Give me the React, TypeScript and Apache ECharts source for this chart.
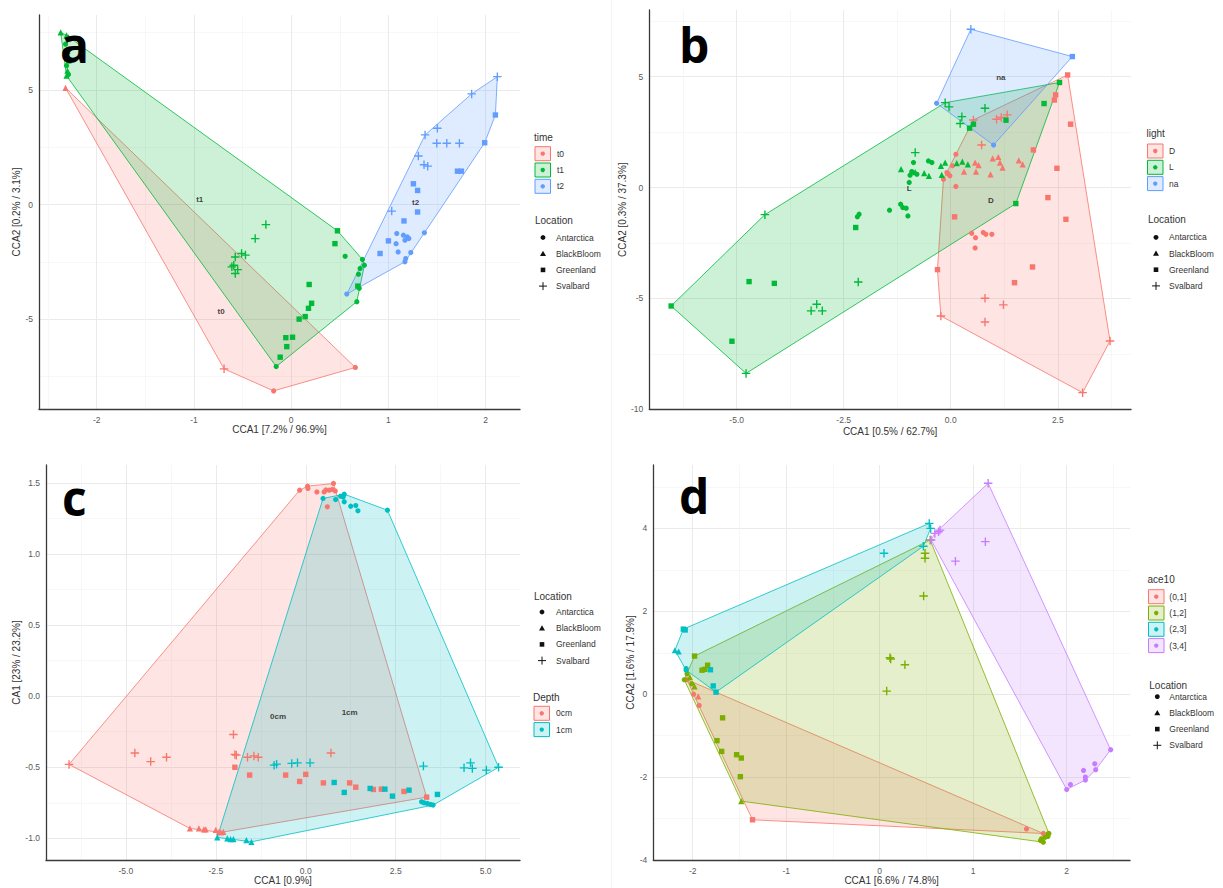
import { useEffect, useRef } from "react";
import * as echarts from "echarts";

type P = [number, number, number];

// Location codes: 0 Antarctica, 1 BlackBloom, 2 Greenland, 3 Svalbard
const LOCATIONS = ["Antarctica", "BlackBloom", "Greenland", "Svalbard"];

// ---------- panel a (time) ----------
const aTimes = ["t0", "t1", "t2"];
const aT0: P[] = [[-2.32, 5.09, 1], [-0.69, -7.16, 3], [-0.18, -8.12, 0], [0.66, -7.1, 0]];
const aT1: P[] = [
  [-2.37, 7.51, 1], [-2.31, 7.38, 1], [-2.29, 7.3, 1], [-2.32, 7.0, 0], [-2.3, 6.71, 1], [-2.31, 6.49, 0],
  [-2.29, 6.28, 1], [-2.31, 6.06, 0], [-2.3, 5.84, 1], [-2.29, 5.68, 0], [-2.31, 5.62, 1],
  [-0.26, -0.87, 3], [-0.37, -1.48, 3], [-0.51, -2.13, 3], [-0.47, -2.2, 3], [-0.575, -2.28, 3],
  [-0.59, -2.64, 3], [-0.55, -2.83, 3], [-0.575, -3.0, 3], [-0.61, -2.71, 3],
  [0.476, -1.14, 2], [0.45, -1.7, 2], [0.555, -2.25, 0], [0.185, -3.48, 2], [0.21, -4.3, 2], [0.178, -4.52, 2],
  [0.144, -4.88, 2], [0.082, -4.99, 2], [0.014, -5.78, 2], [-0.055, -5.8, 2], [-0.045, -6.19, 2],
  [-0.113, -6.65, 2], [-0.154, -7.06, 0],
  [0.733, -2.39, 0], [0.753, -2.64, 0], [0.709, -2.78, 0], [0.692, -3.03, 0], [0.685, -3.55, 2],
  [0.7, -3.65, 0], [0.675, -4.23, 0],
];
const aT2: P[] = [
  [2.12, 5.58, 3], [1.856, 4.83, 3], [1.503, 3.33, 3], [1.377, 3.04, 3], [1.497, 2.68, 3], [1.6, 2.68, 3],
  [1.73, 2.68, 3], [1.308, 2.12, 3], [1.366, 1.74, 3], [1.404, 1.68, 3], [1.034, -0.28, 3],
  [2.1, 3.91, 2], [1.99, 2.7, 2], [1.71, 1.46, 2], [1.75, 1.46, 2], [1.257, 0.91, 2], [1.3, 0.62, 2],
  [1.3, -0.32, 2], [1.16, -0.71, 2], [1.0, -1.58, 2], [0.914, -2.13, 2],
  [1.086, -1.26, 0], [1.154, -1.33, 0], [1.195, -1.41, 0], [1.17, -1.55, 0], [1.21, -1.48, 0],
  [1.079, -1.7, 0], [1.1, -2.06, 0], [1.23, -2.09, 0], [1.178, -2.35, 0], [1.17, -2.49, 0],
  [1.37, -1.23, 0], [0.572, -3.9, 0],
];
const aLabelPos: [number, number][] = [[-0.72, -4.67], [-0.94, 0.22], [1.28, 0.09]];

// ---------- panel b (light) ----------
const bLight = ["D", "L", "na"];
const bD: P[] = [
  [2.73, 5.08, 2], [3.72, -6.92, 3], [3.08, -9.25, 3], [-0.23, -5.79, 3], [-0.31, -3.7, 2], [-0.17, 0.38, 0],
  [0.12, 1.5, 0], [0.53, 3.05, 3], [1.07, 3.08, 3], [1.18, 3.16, 3], [1.32, 3.28, 3], [0.72, 1.92, 3],
  [2.42, 3.95, 2], [2.45, 4.18, 2], [2.8, 2.86, 2], [1.93, 1.7, 2], [2.48, 0.87, 2], [2.27, -0.45, 2],
  [2.69, -1.43, 2], [1.91, -3.58, 2], [1.49, -4.29, 2], [0.09, -1.32, 2],
  [0.12, 0.05, 0], [0.04, 0.98, 0], [-0.07, 0.63, 0], [-0.02, 0.53, 0], [-0.09, 0.68, 0],
  [0.49, -2.06, 0], [0.58, -2.26, 0], [0.76, -2.03, 0], [0.82, -2.11, 0], [0.96, -2.11, 0], [0.57, -2.72, 0],
  [0.31, 0.72, 1], [0.57, 1.13, 1], [0.65, 1.01, 1], [0.59, 0.72, 1], [0.93, 0.6, 1], [0.98, 1.32, 1],
  [1.11, 1.38, 1], [1.15, 1.13, 1], [1.21, 0.9, 1], [1.59, 1.23, 1], [1.68, 1.05, 1],
  [0.8, -4.99, 3], [1.23, -5.29, 3], [0.8, -6.06, 3],
];
const bL: P[] = [
  [-6.53, -5.34, 2], [-4.78, -8.38, 3], [1.52, -0.72, 2], [2.54, 4.74, 2], [-0.13, 3.83, 3], [-4.34, -1.22, 3],
  [-4.71, -4.24, 2], [-4.12, -4.32, 2], [-5.11, -6.93, 2], [-2.16, -4.26, 3], [-3.13, -5.26, 3],
  [-3.26, -5.56, 3], [-3.0, -5.56, 3],
  [-2.22, -1.8, 2], [-2.18, -1.32, 0], [-2.14, -1.2, 0], [-1.43, -1.02, 0], [-1.17, -0.75, 0],
  [-1.12, -0.9, 0], [-1.04, -0.93, 0], [-1.0, -1.28, 0],
  [-0.97, 0.23, 0], [-0.95, 0.56, 0], [-1.16, 0.83, 1], [-0.87, 1.13, 0], [-0.83, 1.58, 3], [-0.91, 0.72, 0],
  [-0.83, 0.7, 1], [-0.79, 0.6, 0], [-0.62, 0.65, 1], [-0.51, 0.53, 1], [-0.52, 1.2, 0], [-0.44, 1.13, 0],
  [-0.23, 0.98, 1], [-0.13, 1.13, 1], [-0.21, 0.57, 1], [0.14, 1.1, 1], [0.27, 1.17, 1], [0.4, 1.05, 1],
  [-0.04, 3.64, 3], [0.26, 3.2, 3], [0.22, 2.89, 3], [0.8, 3.58, 3], [0.44, 2.68, 2], [0.53, 2.86, 2],
  [1.29, 3.04, 2], [2.18, 3.79, 2],
];
const bNa: P[] = [[0.47, 7.14, 3], [2.84, 5.91, 2], [-0.33, 3.8, 0], [1.0, 1.92, 0]];
const bLabelPos: [number, number][] = [[0.94, -0.6], [-0.97, -0.03], [1.17, 4.96]];

// ---------- panel c (Depth) ----------
const cDepth = ["0cm", "1cm"];
const c0: P[] = [
  [-6.58, -0.48, 3], [-3.22, -0.93, 1], [-0.17, 1.448, 0], [0.77, 1.495, 0], [3.36, -0.71, 2], [-2.36, -0.958, 1],
  [0.05, 1.476, 0], [0.06, 1.46, 0], [0.31, 1.436, 0], [0.51, 1.436, 0], [0.56, 1.45, 0], [0.65, 1.448, 0],
  [0.74, 1.453, 0], [0.82, 1.443, 0], [0.6, 1.331, 0],
  [-4.75, -0.4, 3], [-4.31, -0.46, 3], [-3.87, -0.43, 3], [-2.01, -0.27, 3], [-1.97, -0.41, 3],
  [-1.93, -0.415, 3], [-1.62, -0.43, 3], [-1.44, -0.42, 3], [-1.32, -0.43, 3], [0.7, -0.4, 3],
  [-1.97, -0.5, 2], [-1.56, -0.555, 2], [-0.56, -0.555, 2], [-0.17, -0.6, 2], [0.0, -0.55, 2],
  [0.49, -0.61, 2], [1.22, -0.61, 2], [1.39, -0.64, 2], [1.88, -0.656, 2], [2.1, -0.654, 2], [2.73, -0.67, 2],
  [-2.97, -0.93, 1], [-2.83, -0.937, 1], [-2.78, -0.937, 1], [-2.5, -0.94, 1], [-2.41, -0.954, 1],
  [-2.29, -0.954, 1],
];
const c1: P[] = [
  [0.48, 1.39, 0], [1.07, 1.42, 0], [2.27, 1.307, 0], [5.36, -0.5, 3], [3.54, -0.766, 0], [-1.51, -1.024, 1],
  [-2.46, -0.993, 1],
  [0.83, 1.382, 0], [0.97, 1.406, 0], [1.04, 1.4, 0], [1.07, 1.366, 0], [1.25, 1.335, 0], [1.39, 1.34, 0],
  [1.45, 1.303, 0],
  [-0.88, -0.485, 3], [-0.81, -0.478, 3], [-0.39, -0.473, 3], [-0.23, -0.469, 3], [0.12, -0.469, 3],
  [3.27, -0.492, 3], [4.4, -0.504, 3], [4.58, -0.469, 3], [4.63, -0.508, 3], [5.02, -0.52, 3],
  [0.79, -0.607, 2], [1.07, -0.677, 2], [1.79, -0.649, 2], [2.2, -0.654, 2], [2.41, -0.703, 2],
  [2.87, -0.661, 2], [3.66, -0.691, 2],
  [3.22, -0.743, 0], [3.29, -0.75, 0], [3.38, -0.754, 0], [3.47, -0.761, 0],
  [-2.18, -1.0, 1], [-2.09, -1.005, 1], [-2.01, -1.005, 1], [-1.65, -1.012, 1],
];
const cLabelPos: [number, number][] = [[-0.77, -0.14], [1.22, -0.117]];

// ---------- panel d (ace10) ----------
const dAce = ["(0,1]", "(1,2]", "(2,3]", "(3,4]"];
const d1: P[] = [
  [-1.36, -3.03, 2], [1.57, -3.25, 0], [-1.93, -0.27, 0], [-1.99, 0.0, 0], [-2.06, 0.35, 0], [-1.94, -0.05, 1],
  [1.75, -3.36, 0],
];
const d2: P[] = [
  [-2.09, 0.35, 0], [-1.98, 0.92, 2], [0.54, 3.72, 3], [1.8, -3.37, 0], [1.75, -3.57, 0], [-1.48, -2.58, 1],
  [-1.9, 0.58, 2], [-1.87, 0.6, 2], [-1.84, 0.7, 2], [-1.68, -0.57, 2], [-1.74, -1.12, 2], [-1.69, -1.38, 2],
  [-1.53, -1.46, 2], [-1.48, -1.54, 2], [-1.49, -1.99, 2],
  [-2.06, 0.49, 0], [-2.03, 0.41, 1], [-2.01, 0.25, 0], [-1.98, 0.19, 1],
  [0.485, 3.4, 3], [0.485, 3.28, 3], [0.47, 2.37, 3], [0.11, 0.88, 3], [0.118, 0.85, 3], [0.27, 0.71, 3],
  [0.075, 0.076, 3],
  [1.81, -3.36, 0], [1.77, -3.45, 0], [1.73, -3.49, 0], [1.8, -3.43, 0], [1.72, -3.53, 0],
];
const d3: P[] = [
  [0.53, 4.12, 3], [-2.1, 1.57, 2], [-2.08, 1.55, 2], [-2.19, 1.06, 1], [-2.15, 1.03, 1], [-2.07, 0.58, 0],
  [-2.07, 0.62, 0], [-1.81, 0.59, 2], [-1.78, 0.2, 2], [-1.75, 0.05, 2], [0.046, 3.4, 3], [0.545, 4.0, 3],
  [0.467, 3.57, 3],
];
const d4: P[] = [
  [1.16, 5.09, 3], [2.47, -1.34, 0], [2.0, -2.3, 0], [0.59, 3.88, 3], [0.63, 3.92, 3], [0.645, 3.96, 3],
  [1.13, 3.68, 3], [0.81, 3.21, 3], [0.55, 3.72, 3], [2.04, -2.18, 0], [2.18, -1.84, 0], [2.2, -2.0, 0],
  [2.2, -2.07, 0], [2.3, -1.68, 0], [2.31, -1.82, 0],
];

const RED = "#F8766D";
const GREEN = "#00BA38";
const BLUE = "#619CFF";
const TEAL = "#00BFC4";
const OLIVE = "#7CAE00";
const PURPLE = "#C77CFF";

const FONT = '"Liberation Sans", Arial, sans-serif';
const PLUS = "path://M4.2,0H5.8V4.2H10V5.8H5.8V10H4.2V5.8H0V4.2H4.2Z";
const SYMBOLS = ["circle", "triangle", "rect", PLUS];
const SIZES = [5.2, 6.2, 5.4, 8.5];

function rgba(hex: string, a: number) {
  const n = parseInt(hex.slice(1), 16);
  return `rgba(${(n >> 16) & 255},${(n >> 8) & 255},${n & 255},${a})`;
}

function convexHull(pts: P[]): number[][] {
  const p = pts.map((q) => [q[0], q[1]]).sort((a, b) => a[0] - b[0] || a[1] - b[1]);
  const cross = (o: number[], a: number[], b: number[]) =>
    (a[0] - o[0]) * (b[1] - o[1]) - (a[1] - o[1]) * (b[0] - o[0]);
  const lower: number[][] = [];
  for (const q of p) {
    while (lower.length >= 2 && cross(lower[lower.length - 2], lower[lower.length - 1], q) <= 0) lower.pop();
    lower.push(q);
  }
  const upper: number[][] = [];
  for (let i = p.length - 1; i >= 0; i--) {
    const q = p[i];
    while (upper.length >= 2 && cross(upper[upper.length - 2], upper[upper.length - 1], q) <= 0) upper.pop();
    upper.push(q);
  }
  upper.pop();
  lower.pop();
  return lower.concat(upper);
}

type Group = { name: string; color: string; pts: P[] };
type AxisCfg = {
  min: number; max: number; step: number; dec: number; name: string; gap: number;
  showMin: boolean;
};
type Panel = {
  grid: { left: number; top: number; width: number; height: number };
  x: AxisCfg;
  y: AxisCfg;
  groups: Group[];
  labels: [number, number][] | null;
};

const PANELS: Panel[] = [
  {
    grid: { left: 39, top: 15, width: 481, height: 394 },
    x: { min: -2.593, max: 2.353, step: 1, dec: 0, name: "CCA1 [7.2% / 96.9%]", gap: 15, showMin: false },
    y: { min: -8.91, max: 8.27, step: 5, dec: 0, name: "CCA2 [0.2% / 3.1%]", gap: 13, showMin: false },
    groups: [
      { name: aTimes[0], color: RED, pts: aT0 },
      { name: aTimes[1], color: GREEN, pts: aT1 },
      { name: aTimes[2], color: BLUE, pts: aT2 },
    ],
    labels: aLabelPos,
  },
  {
    grid: { left: 649.3, top: 10, width: 481.7, height: 399.3 },
    x: { min: -7.04, max: 4.21, step: 2.5, dec: 1, name: "CCA1 [0.5% / 62.7%]", gap: 17, showMin: false },
    y: { min: -10, max: 8.01, step: 5, dec: 0, name: "CCA2 [0.3% / 37.3%]", gap: 20, showMin: true },
    groups: [
      { name: bLight[0], color: RED, pts: bD },
      { name: bLight[1], color: GREEN, pts: bL },
      { name: bLight[2], color: BLUE, pts: bNa },
    ],
    labels: bLabelPos,
  },
  {
    grid: { left: 46, top: 465, width: 474, height: 395 },
    x: { min: -7.22, max: 5.955, step: 2.5, dec: 1, name: "CCA1 [0.9%]", gap: 15, showMin: false },
    y: { min: -1.152, max: 1.625, step: 0.5, dec: 1, name: "CA1 [23% / 23.2%]", gap: 21, showMin: false },
    groups: [
      { name: cDepth[0], color: RED, pts: c0 },
      { name: cDepth[1], color: TEAL, pts: c1 },
    ],
    labels: cLabelPos,
  },
  {
    grid: { left: 653.3, top: 465, width: 476.7, height: 395 },
    x: { min: -2.421, max: 2.677, step: 1, dec: 0, name: "CCA1 [6.6% / 74.8%]", gap: 15, showMin: false },
    y: { min: -4, max: 5.53, step: 2, dec: 0, name: "CCA2 [1.6% / 17.9%]", gap: 15, showMin: true },
    groups: [
      { name: dAce[0], color: RED, pts: d1 },
      { name: dAce[1], color: OLIVE, pts: d2 },
      { name: dAce[2], color: TEAL, pts: d3 },
      { name: dAce[3], color: PURPLE, pts: d4 },
    ],
    labels: null,
  },
];

function axis(i: number, c: AxisCfg) {
  return {
    type: "value",
    gridIndex: i,
    min: c.min,
    max: c.max,
    minInterval: c.step,
    maxInterval: c.step,
    splitNumber: 5,
    name: c.name,
    nameLocation: "middle",
    nameGap: c.gap,
    nameTextStyle: { fontSize: 10, color: "#333", fontFamily: FONT },
    axisLine: { show: true, onZero: false, lineStyle: { color: "#3a3a3a", width: 1.3 } },
    axisTick: { show: false },
    axisLabel: {
      fontSize: 8.5,
      color: "#595959",
      fontFamily: FONT,
      margin: 6,
      showMinLabel: c.showMin,
      showMaxLabel: false,
      formatter: (v: number) => v.toFixed(c.dec),
    },
    splitLine: { show: true, showMinLine: false, showMaxLine: false, lineStyle: { color: "#e8e8e8", width: 0.9 } },
    minorTick: { show: false, splitNumber: 2 },
    minorSplitLine: { show: true, lineStyle: { color: "#f3f3f3", width: 0.7 } },
  };
}

function buildSeries() {
  const series: any[] = [];
  PANELS.forEach((p, i) => {
    p.groups.forEach((g) => {
      const hull = convexHull(g.pts);
      series.push({
        type: "custom",
        xAxisIndex: i,
        yAxisIndex: i,
        z: 1,
        silent: true,
        data: [hull[0]],
        renderItem: (_params: any, api: any) => ({
          type: "polygon",
          shape: { points: hull.map((q) => api.coord(q)) },
          style: { fill: rgba(g.color, 0.2), stroke: g.color, lineWidth: 0.8 },
        }),
      });
    });
    p.groups.forEach((g) => {
      series.push({
        type: "scatter",
        xAxisIndex: i,
        yAxisIndex: i,
        z: 3,
        silent: true,
        data: g.pts.map((q) => ({
          value: [q[0], q[1]],
          symbol: SYMBOLS[q[2]],
          symbolSize: SIZES[q[2]],
        })),
        itemStyle: { color: g.color, opacity: 1 },
      });
    });
    if (p.labels) {
      series.push({
        type: "scatter",
        xAxisIndex: i,
        yAxisIndex: i,
        z: 4,
        silent: true,
        symbolSize: 1,
        itemStyle: { color: "rgba(0,0,0,0)" },
        data: p.labels.map((q, k) => ({ value: q, name: p.groups[k].name })),
        label: {
          show: true,
          position: "inside",
          formatter: (d: any) => d.name,
          fontSize: 8,
          fontWeight: "bold",
          color: "#111",
          fontFamily: FONT,
        },
      });
    }
  });
  return series;
}

function text(x: number, y: number, s: string, size: number, extra: any = {}) {
  return {
    type: "text",
    x,
    y,
    silent: true,
    style: { text: s, fontSize: size, fontFamily: FONT, fill: "#333", align: "left", verticalAlign: "middle", ...extra },
  };
}

function fillLegend(boxX: number, textX: number, titleY: number, firstY: number, title: string, groups: Group[]) {
  const els: any[] = [text(boxX - 1, titleY, title, 10)];
  groups.forEach((g, k) => {
    const cy = firstY + k * 16.3;
    els.push({
      type: "rect",
      silent: true,
      shape: { x: boxX, y: cy - 7, width: 15.5, height: 14 },
      style: { fill: rgba(g.color, 0.2), stroke: g.color, lineWidth: 1 },
    });
    els.push({ type: "circle", silent: true, shape: { cx: boxX + 7.75, cy, r: 2.2 }, style: { fill: g.color } });
    els.push(text(textX, cy, g.name, 8.5));
  });
  return els;
}

function shapeLegend(symX: number, textX: number, titleY: number, firstY: number) {
  const els: any[] = [text(symX - 8, titleY, "Location", 10)];
  LOCATIONS.forEach((name, k) => {
    const cy = firstY + k * 16.2;
    const c = "#111";
    if (k === 0) els.push({ type: "circle", silent: true, shape: { cx: symX, cy, r: 2.4 }, style: { fill: c } });
    if (k === 1)
      els.push({
        type: "polygon",
        silent: true,
        shape: { points: [[symX, cy - 3], [symX - 3, cy + 2.3], [symX + 3, cy + 2.3]] },
        style: { fill: c },
      });
    if (k === 2)
      els.push({ type: "rect", silent: true, shape: { x: symX - 2.3, y: cy - 2.3, width: 4.6, height: 4.6 }, style: { fill: c } });
    if (k === 3) {
      els.push({ type: "line", silent: true, shape: { x1: symX - 4, y1: cy, x2: symX + 4, y2: cy }, style: { stroke: c, lineWidth: 1 } });
      els.push({ type: "line", silent: true, shape: { x1: symX, y1: cy - 4, x2: symX, y2: cy + 4 }, style: { stroke: c, lineWidth: 1 } });
    }
    els.push(text(textX, cy, name, 8.5));
  });
  return els;
}

function letter(x: number, y: number, s: string) {
  return {
    type: "text",
    x,
    y,
    silent: true,
    z: 100,
    style: {
      text: s,
      fontSize: 48,
      fontWeight: "bold",
      fontFamily: '"Open Sans", "Liberation Sans", sans-serif',
      fill: "#000",
      align: "left",
      verticalAlign: "middle",
    },
  };
}

function buildGraphic() {
  return [
    { type: "line", silent: true, shape: { x1: 611.5, y1: 0, x2: 611.5, y2: 888 }, style: { stroke: "#f4f4f4", lineWidth: 1 } },
    ...fillLegend(535, 557, 137, 153.7, "time", PANELS[0].groups),
    ...shapeLegend(543, 556, 220, 237.5),
    ...fillLegend(1147.5, 1169, 133.3, 151, "light", PANELS[1].groups),
    ...shapeLegend(1156, 1169, 219, 237.3),
    ...shapeLegend(542, 556, 596, 612),
    ...fillLegend(534, 556, 697.7, 713.3, "Depth", PANELS[2].groups),
    ...fillLegend(1148.5, 1169.3, 579.3, 596.7, "ace10", PANELS[3].groups),
    ...shapeLegend(1157.3, 1169.3, 685, 696.7),
    letter(60, 44, "a"),
    letter(679, 44, "b"),
    letter(62, 497, "c"),
    letter(679, 495, "d"),
  ];
}

export default function App() {
  const ref = useRef<HTMLDivElement>(null);
  useEffect(() => {
    if (!ref.current) return;
    const chart = echarts.init(ref.current, undefined, { renderer: "svg" });
    chart.setOption({
      animation: false,
      backgroundColor: "#ffffff",
      grid: PANELS.map((p) => ({ ...p.grid, containLabel: false, outerBoundsMode: "none" })),
      xAxis: PANELS.map((p, i) => axis(i, p.x)),
      yAxis: PANELS.map((p, i) => axis(i, p.y)),
      series: buildSeries(),
      graphic: buildGraphic(),
    } as any);
    return () => chart.dispose();
  }, []);
  return (
    <div
      ref={ref}
      style={{ position: "fixed", left: 0, top: 0, width: 1223, height: 888, background: "#fff" }}
    />
  );
}
